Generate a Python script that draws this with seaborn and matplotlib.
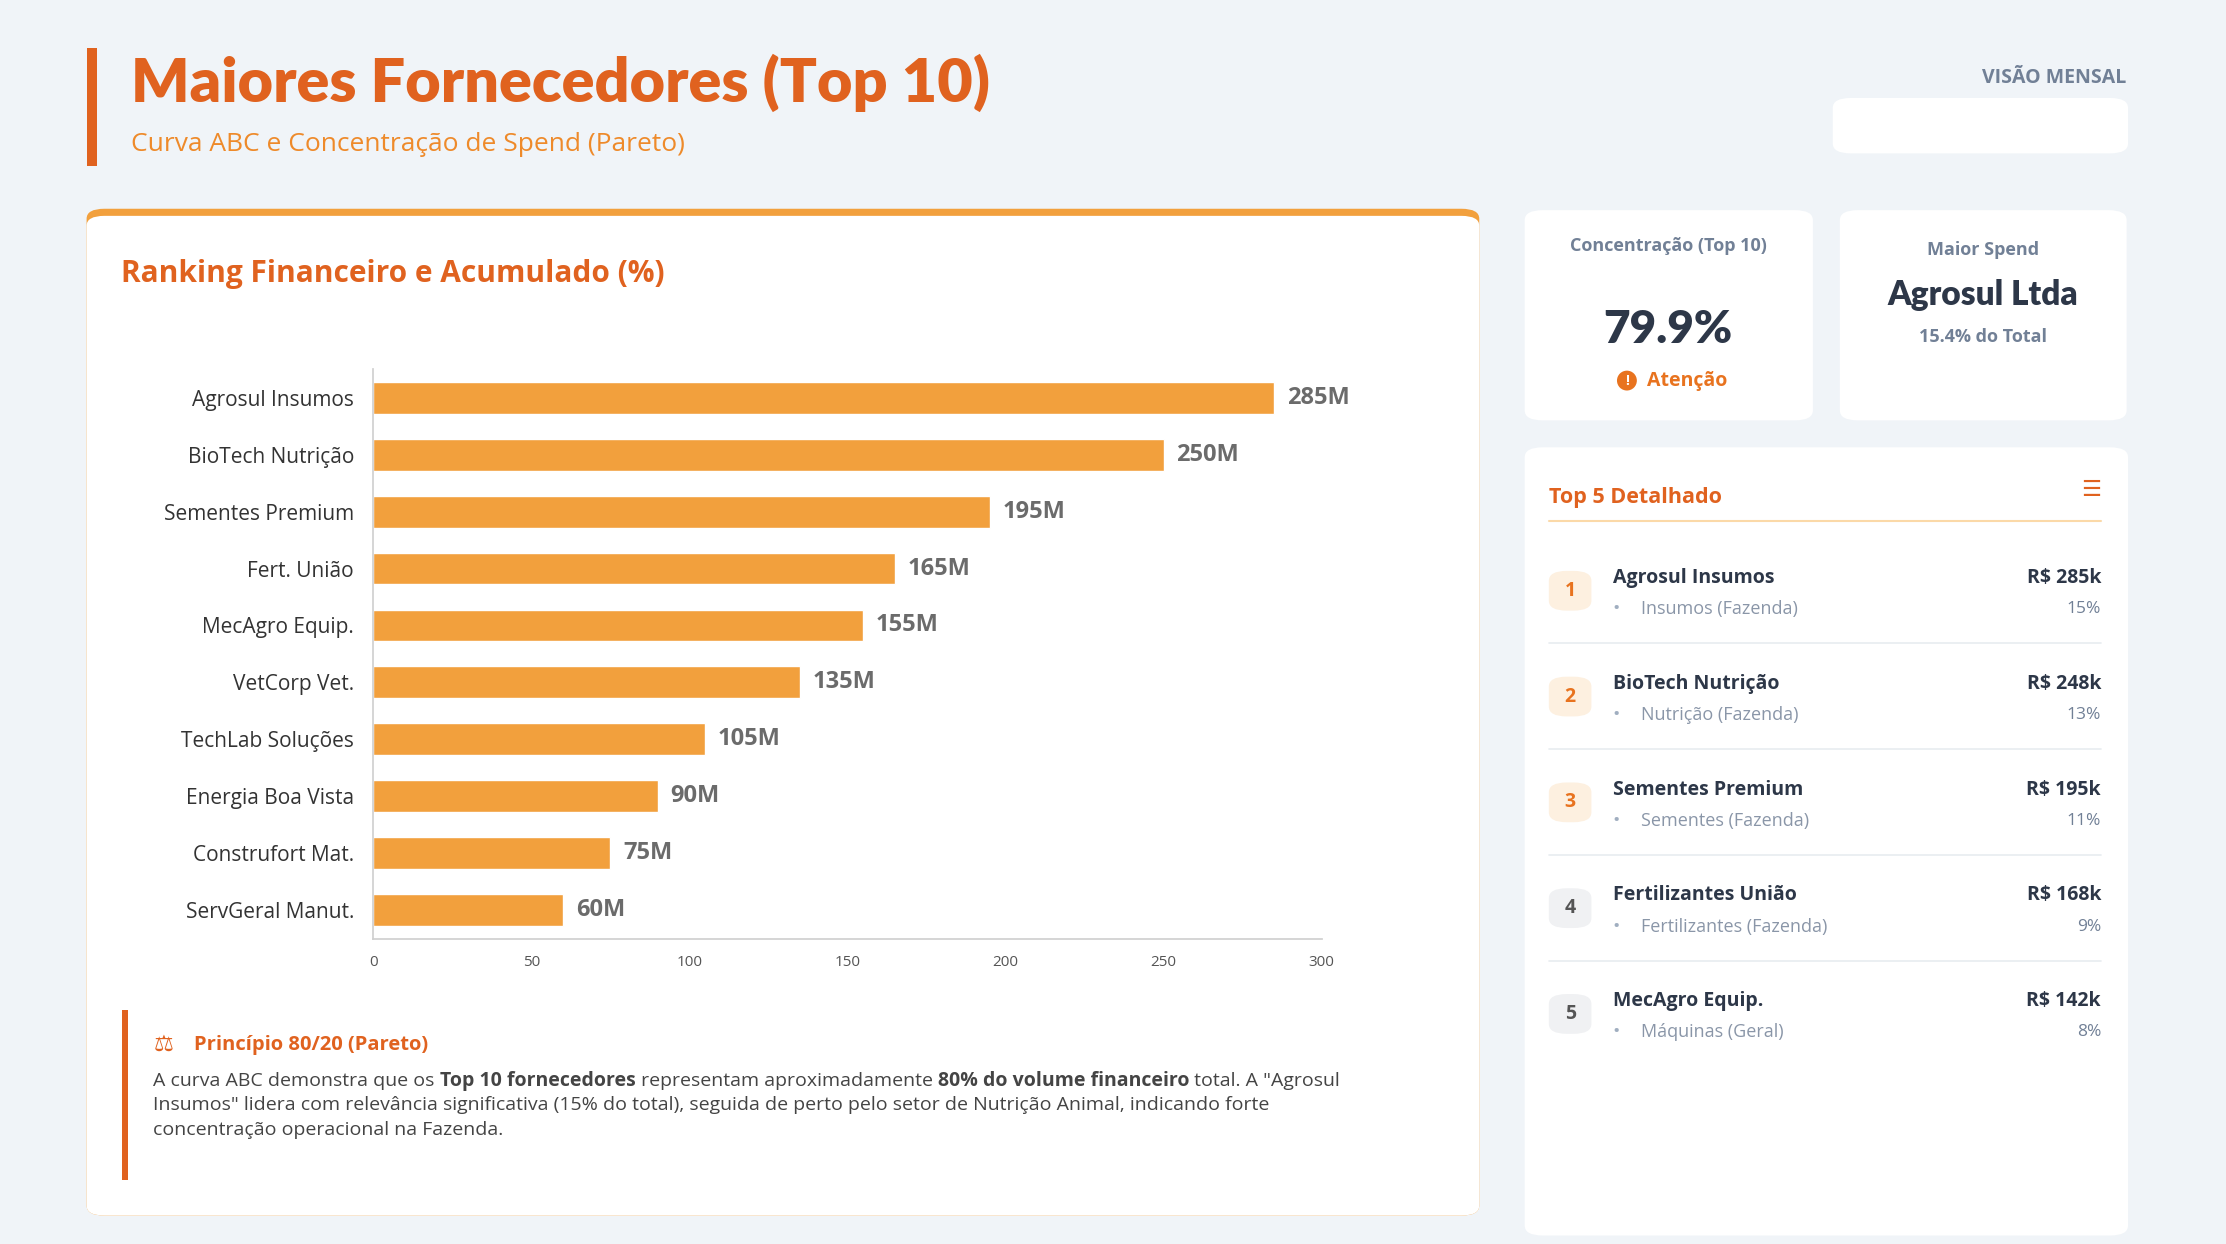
import numpy as np
import pandas as pd
import matplotlib
matplotlib.use("Agg")
import matplotlib.pyplot as plt
import seaborn as sns
from matplotlib.patches import FancyBboxPatch, Rectangle, Ellipse

suppliers = ["Agrosul Insumos", "BioTech Nutrição", "Sementes Premium", "Fert. União",
             "MecAgro Equip.", "VetCorp Vet.", "TechLab Soluções", "Energia Boa Vista",
             "Construfort Mat.", "ServGeral Manut."]
spend_m = [285, 250, 195, 165, 155, 135, 105, 90, 75, 60]
x_ticks = [0, 50, 100, 150, 200, 250, 300]

top5_names = ["Agrosul Insumos", "BioTech Nutrição", "Sementes Premium", "Fertilizantes União", "MecAgro Equip."]
top5_cats = ["Insumos (Fazenda)", "Nutrição (Fazenda)", "Sementes (Fazenda)", "Fertilizantes (Fazenda)", "Máquinas (Geral)"]
top5_values = ["R$ 285k", "R$ 248k", "R$ 195k", "R$ 168k", "R$ 142k"]
top5_pct = ["15%", "13%", "11%", "9%", "8%"]

BG = "#f0f4f8"
ORANGE = "#e0621f"
BAR = "#f2a03d"
DARK = "#2d3748"
GREY = "#718096"

sns.set_theme(style="white")
plt.rcParams["font.family"] = ["Open Sans", "DejaVu Sans"]

W, H = 1568, 876
fig = plt.figure(figsize=(22.26, 12.44), dpi=100, facecolor=BG)


def fx(x):
    return x / W


def fy(y):
    return 1 - y / H


def card(x0, y0, x1, y1, color="white"):
    p = FancyBboxPatch((fx(x0), fy(y1)), fx(x1 - x0), (y1 - y0) / H,
                       boxstyle="round,pad=0,rounding_size=0.008", transform=fig.transFigure,
                       facecolor=color, edgecolor="none", zorder=0)
    fig.patches.append(p)


def txt(x, y, s, **kw):
    kw.setdefault("zorder", 3)
    fig.text(fx(x), fy(y), s, **kw)


# header
fig.patches.append(Rectangle((fx(61), fy(117)), fx(7), 83 / H, transform=fig.transFigure,
                             facecolor=ORANGE, edgecolor="none"))
txt(92, 58, "Maiores Fornecedores (Top 10)", fontsize=44, fontweight="heavy", color=ORANGE,
    va="center", family=["Lato", "DejaVu Sans"])
txt(92, 102, "Curva ABC e Concentração de Spend (Pareto)", fontsize=19, color="#ee8a2a", va="center")
txt(1498, 55, "VISÃO MENSAL", fontsize=14, fontweight="bold", color=GREY, ha="right", va="center")
card(1291, 69, 1499, 108)

# main card
card(61, 147, 1042, 856, color=BAR)
card(61, 152, 1042, 856)
txt(85, 193, "Ranking Financeiro e Acumulado (%)", fontsize=21.5, fontweight="bold", color=ORANGE, va="center")

ax = fig.add_axes([fx(263), fy(661), fx(931 - 263), (661 - 260) / H], zorder=5)
ax.patch.set_alpha(0)
df = pd.DataFrame({"fornecedor": suppliers, "spend": spend_m})
sns.barplot(data=df, x="spend", y="fornecedor", orient="h", color=BAR, width=0.56, saturation=1, ax=ax)
ax.set_xlim(0, 300)
ax.set_xticks(x_ticks)
ax.set_xlabel("")
ax.set_ylabel("")
ax.tick_params(axis="x", labelsize=11, colors="#555555", length=0, pad=12)
ax.tick_params(axis="y", labelsize=15, colors="#333333", length=0, pad=14)
for s in ["top", "right"]:
    ax.spines[s].set_visible(False)
ax.spines["left"].set_color("#d0d0d0")
ax.spines["bottom"].set_color("#d0d0d0")
for i, v in enumerate(spend_m):
    ax.text(v + 4, i, f"{v}M", va="center", ha="left", fontsize=17, fontweight="bold", color="#6b6b6b")

# pareto note
fig.patches.append(Rectangle((fx(86), fy(831)), fx(4), 120 / H, transform=fig.transFigure,
                             facecolor=ORANGE, edgecolor="none"))
txt(108, 736, "⚖", fontsize=16, color=ORANGE, va="center", family=["DejaVu Sans"])
txt(137, 736, "Princípio 80/20 (Pareto)", fontsize=14.5, fontweight="bold", color=ORANGE, va="center")
parts = [("A curva ABC demonstra que os ", "normal"), ("Top 10 fornecedores", "bold"),
         (" representam aproximadamente ", "normal"), ("80% do volume financeiro", "bold"),
         (' total. A "Agrosul', "normal")]
renderer = fig.canvas.get_renderer()
xpos = fx(108)
for s, w in parts:
    t = fig.text(xpos, fy(761), s, fontsize=14, color="#444444", va="center", fontweight=w)
    bb = t.get_window_extent(renderer=renderer)
    xpos += bb.width / fig.bbox.width
txt(108, 778, 'Insumos" lidera com relevância significativa (15% do total), seguida de perto pelo setor de Nutrição Animal, indicando forte',
    fontsize=14, color="#444444", va="center")
txt(108, 796, "concentração operacional na Fazenda.", fontsize=14, color="#444444", va="center")

# KPI cards
card(1074, 148, 1277, 296)
txt(1175, 173, "Concentração (Top 10)", fontsize=13, fontweight="bold", color=GREY, ha="center", va="center")
txt(1175, 232, "79.9%", fontsize=33, fontweight="heavy", color=DARK, ha="center", va="center",
    family=["Lato", "DejaVu Sans"])
fig.patches.append(Ellipse((fx(1146), fy(268)), fx(14), 14 / H, transform=fig.transFigure,
                           facecolor="#e8731f", edgecolor="none", zorder=1))
txt(1146, 268.5, "!", fontsize=10, fontweight="bold", color="white", ha="center", va="center")
txt(1160, 268, "Atenção", fontsize=14, fontweight="bold", color="#e8731f", va="center")

card(1296, 148, 1498, 296)
txt(1397, 176, "Maior Spend", fontsize=13, fontweight="bold", color=GREY, ha="center", va="center")
txt(1397, 208, "Agrosul Ltda", fontsize=24, fontweight="heavy", color=DARK, ha="center", va="center",
    family=["Lato", "DejaVu Sans"])
txt(1397, 237, "15.4% do Total", fontsize=13, fontweight="bold", color=GREY, ha="center", va="center")

# Top 5 card
card(1074, 315, 1499, 870)
txt(1091, 350, "Top 5 Detalhado", fontsize=15.5, fontweight="bold", color=ORANGE, va="center")
txt(1480, 345, "☰", fontsize=16, color=ORANGE, ha="right", va="center", family=["DejaVu Sans"])
fig.lines.append(plt.Line2D([fx(1091), fx(1480)], [fy(367), fy(367)], transform=fig.transFigure,
                            color="#fbd9a8", lw=1.5))
for i, (n, c, v, p) in enumerate(zip(top5_names, top5_cats, top5_values, top5_pct)):
    y = 416 + i * 74.5
    hi = i < 3
    card(1091, y - 14, 1121, y + 14, color="#fdf0e0" if hi else "#f0f1f3")
    txt(1106, y, str(i + 1), fontsize=14, fontweight="bold", color="#e8731f" if hi else "#555555",
        ha="center", va="center")
    txt(1136, y - 9, n, fontsize=14, fontweight="bold", color=DARK, va="center")
    txt(1136, y + 13, "•", fontsize=14, color="#a0aec0", va="center")
    txt(1156, y + 13, c, fontsize=13, color="#8a96a8", va="center")
    txt(1480, y - 9, v, fontsize=14, fontweight="bold", color=DARK, ha="right", va="center")
    txt(1480, y + 13, p, fontsize=12.5, color=GREY, ha="right", va="center")
    if i < 4:
        fig.lines.append(plt.Line2D([fx(1091), fx(1480)], [fy(y + 37), fy(y + 37)], transform=fig.transFigure,
                                    color="#e8ecf0", lw=1.2))

fig.savefig("out.png", dpi=100, facecolor=BG)
